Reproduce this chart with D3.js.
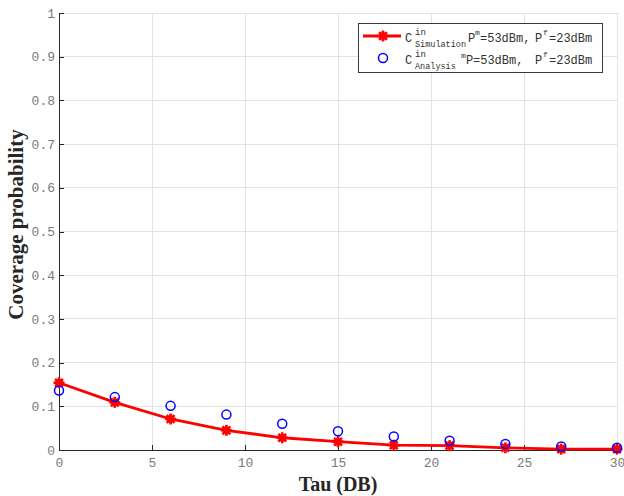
<!DOCTYPE html>
<html>
<head>
<meta charset="utf-8">
<script src="https://cdn.jsdelivr.net/npm/d3@7"></script>
<style>
  body { margin: 0; background: #fff; }
  svg { display: block; }
</style>
</head>
<body>
<svg id="chart" width="624" height="496"></svg>
<script>
// ---- data ----
const tau = [0, 3, 6, 9, 12, 15, 18, 21, 24, 27, 30];
const simulation = [0.154, 0.109, 0.071, 0.045, 0.028, 0.019, 0.011, 0.010, 0.005, 0.002, 0.002];
const analysis = [0.136, 0.121, 0.101, 0.081, 0.060, 0.043, 0.031, 0.021, 0.014, 0.008, 0.005];
const xTicks = [0, 5, 10, 15, 20, 25, 30];
const yTicks = [0, 0.1, 0.2, 0.3, 0.4, 0.5, 0.6, 0.7, 0.8, 0.9, 1];
const xLabel = "Tau (DB)";
const yLabel = "Coverage probability";

const svg = d3.select("#chart");
const L = 59, R = 617, T = 13, B = 450;
const x = d3.scaleLinear().domain([0, 30]).range([L, R]);
const y = d3.scaleLinear().domain([0, 1]).range([B, T]);

// grid
const grid = svg.append("g");
grid.selectAll(".gx").data(xTicks).enter().append("line")
  .attr("x1", d => x(d)).attr("x2", d => x(d)).attr("y1", T).attr("y2", B)
  .attr("stroke", "#e3e3e3").attr("stroke-width", 1).attr("shape-rendering", "crispEdges");
grid.selectAll(".gy").data(yTicks).enter().append("line")
  .attr("x1", L).attr("x2", R).attr("y1", d => y(d)).attr("y2", d => y(d))
  .attr("stroke", "#e3e3e3").attr("stroke-width", 1).attr("shape-rendering", "crispEdges");

const yFmt = d => (d === 0 || d === 1) ? String(d) : d.toFixed(1);

const xAxis = svg.append("g").attr("transform", `translate(0,${B})`)
  .call(d3.axisBottom(x).tickValues(xTicks).tickSizeInner(-5).tickSizeOuter(0).tickPadding(8).tickFormat(d3.format("d")));
const yAxis = svg.append("g").attr("transform", `translate(${L},0)`)
  .call(d3.axisLeft(y).tickValues(yTicks).tickSizeInner(-5).tickSizeOuter(0).tickPadding(4).tickFormat(yFmt));

[xAxis, yAxis].forEach(a => {
  a.select(".domain").attr("stroke", "#262626").attr("stroke-width", 1).attr("shape-rendering", "crispEdges");
  a.selectAll(".tick line").attr("stroke", "#262626").attr("shape-rendering", "crispEdges");
  a.selectAll(".tick text").attr("fill", "#7a7a7a")
    .style("font-family", "'Liberation Mono', 'DejaVu Sans Mono', monospace")
    .style("font-size", "13px");
});

// red simulation line
const line = d3.line().x((d, i) => x(tau[i])).y(d => y(d));
svg.append("path").datum(simulation)
  .attr("d", line).attr("fill", "none").attr("stroke", "#ff0000").attr("stroke-width", 2.8)
  .attr("stroke-linejoin", "round");

function asterisk(g, cx, cy, r) {
  const gg = g.append("g").attr("transform", `translate(${cx},${cy})`);
  [0, 45, 90, 135].forEach(a => {
    const rad = a * Math.PI / 180;
    gg.append("line")
      .attr("x1", -r * Math.cos(rad)).attr("y1", -r * Math.sin(rad))
      .attr("x2", r * Math.cos(rad)).attr("y2", r * Math.sin(rad))
      .attr("stroke", "#ff0000").attr("stroke-width", 2.6);
  });
  gg.append("circle").attr("r", 3.8).attr("fill", "#ff0000");
}
const markers = svg.append("g");
simulation.forEach((v, i) => asterisk(markers, x(tau[i]), y(v), 5.5));

// blue analysis circles
svg.append("g").selectAll("circle").data(analysis).enter().append("circle")
  .attr("cx", (d, i) => x(tau[i])).attr("cy", d => y(d)).attr("r", 4.5)
  .attr("fill", "none").attr("stroke", "#0000ff").attr("stroke-width", 1.5);

// axis labels
svg.append("text").attr("x", (L + R) / 2).attr("y", 491).attr("text-anchor", "middle")
  .style("font-family", "'Liberation Serif', 'Times New Roman', serif").style("font-weight", "bold")
  .style("font-size", "20px").attr("fill", "#262626").text(xLabel);
svg.append("text").attr("transform", `translate(23,${(T + B) / 2 - 7}) rotate(-90)`).attr("text-anchor", "middle")
  .style("font-family", "'Liberation Serif', 'Times New Roman', serif").style("font-weight", "bold")
  .style("font-size", "21px").attr("fill", "#262626").text(yLabel);

// legend
const lg = svg.append("g");
lg.append("rect").attr("x", 358.5).attr("y", 23.5).attr("width", 244).attr("height", 49)
  .attr("fill", "#fff").attr("stroke", "#3a3a3a").attr("stroke-width", 1);
lg.append("line").attr("x1", 363).attr("x2", 401).attr("y1", 36).attr("y2", 36)
  .attr("stroke", "#ff0000").attr("stroke-width", 2.8);
asterisk(lg, 383, 36, 5.5);
lg.append("circle").attr("cx", 383).attr("cy", 58).attr("r", 4.5)
  .attr("fill", "none").attr("stroke", "#0000ff").attr("stroke-width", 1.5);

const mono = "'Liberation Mono', 'DejaVu Sans Mono', monospace";
function t(xp, yp, size, s) {
  lg.append("text").attr("x", xp).attr("y", yp).style("font-family", mono)
    .style("font-size", size + "px").attr("fill", "#333").text(s);
}
// entry 1
t(405, 42, 12, "C"); t(415, 35, 9, "in"); t(415, 47, 8.5, "Simulation");
t(468, 42, 12, "P"); t(475, 35, 8, "m"); t(480, 42, 12, "=53dBm,");
t(535, 42, 12, "P"); t(543, 35, 8, "f"); t(549, 42, 12, "=23dBm");
// entry 2
t(415, 57, 9, "in"); t(405, 64, 12, "C"); t(415, 69, 8.5, "Analysis");
t(461, 58, 8, "m"); t(466, 64, 12, "P"); t(473, 64, 12, "=53dBm,");
t(535, 64, 12, "P"); t(543, 57, 8, "f"); t(549, 64, 12, "=23dBm");
</script>
</body>
</html>
